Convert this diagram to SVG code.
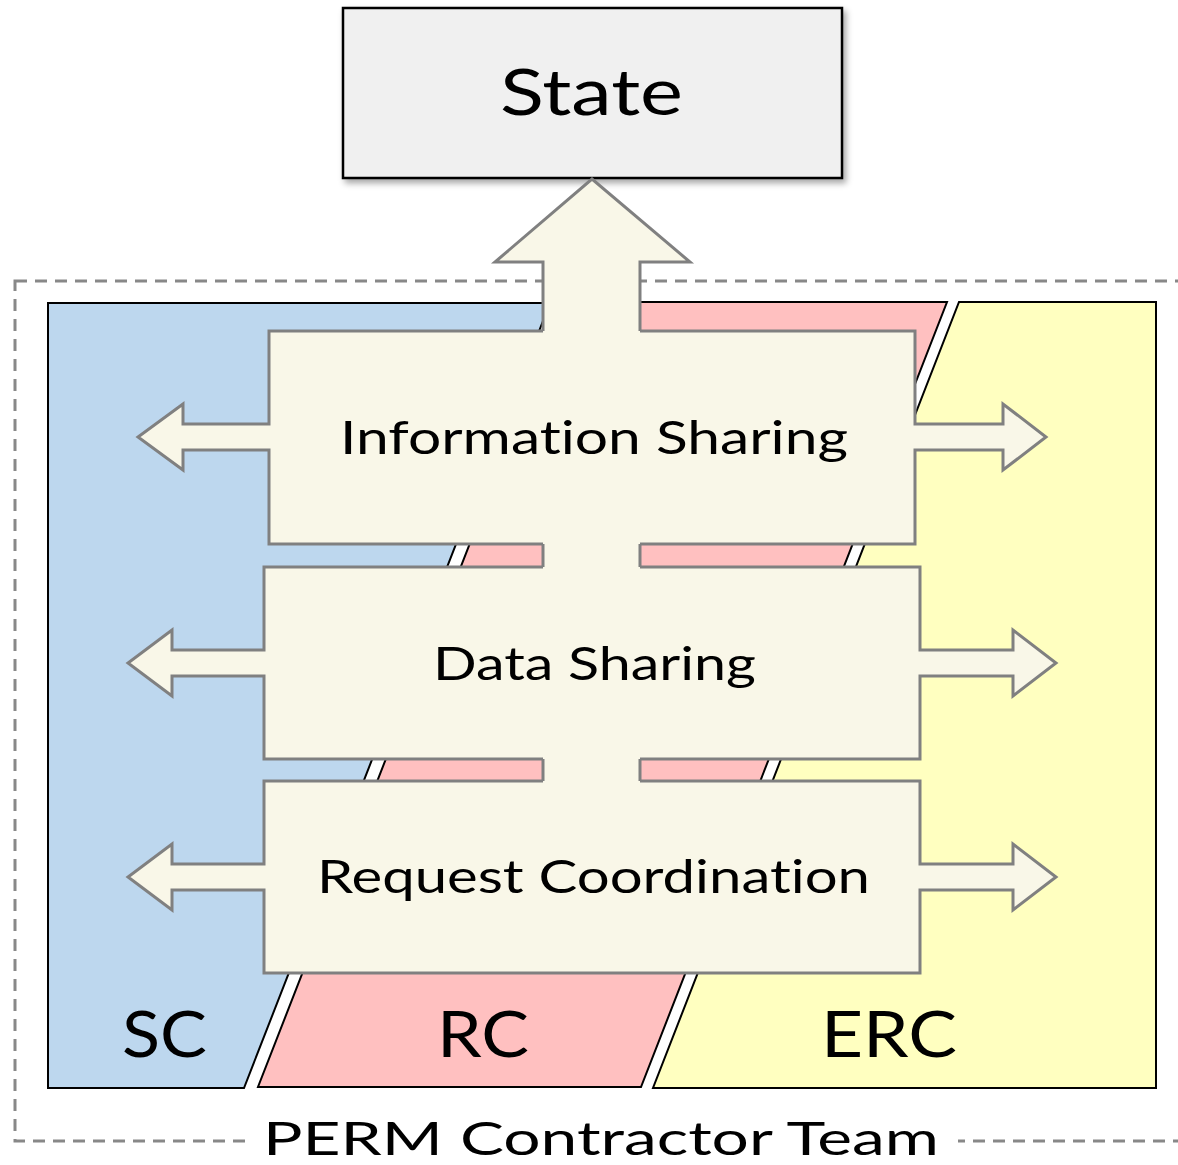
<svg xmlns="http://www.w3.org/2000/svg" width="1178" height="1165" viewBox="0 0 1178 1165">
<defs>
<filter id="shadow" x="-5%" y="-5%" width="115%" height="130%">
<feDropShadow dx="3" dy="4" stdDeviation="3" flood-color="#000" flood-opacity="0.35"/>
</filter>
<style>
.panel{stroke:#000;stroke-width:2;stroke-linejoin:miter}
.fill{fill:#f9f7e8;stroke:none}
.edge{fill:none;stroke:#808080;stroke-width:3;stroke-linejoin:miter}
.lbl{font-family:Lato,"Open Sans","Liberation Sans",sans-serif;fill:#000;text-anchor:middle;font-variant-ligatures:none}
</style>
</defs>
<rect width="1178" height="1165" fill="#fff"/>

<g id="team">
<rect x="15" y="281" width="1175" height="860" fill="none" stroke="#888" stroke-width="3" stroke-dasharray="12 8"/>
</g>

<g id="sc">
<polygon class="panel" points="48,303 550,303 244,1088 48,1088" fill="#bdd7ee"/>
<text class="lbl" x="164.5" y="1057" font-size="63" textLength="85" lengthAdjust="spacingAndGlyphs">SC</text>
</g>
<g id="rc">
<polygon class="panel" points="564,302 947,302 641,1087 258,1087" fill="#ffc0c0"/>
<text class="lbl" x="483" y="1057" font-size="63" textLength="92" lengthAdjust="spacingAndGlyphs">RC</text>
</g>
<g id="erc">
<polygon class="panel" points="959,302 1156,302 1156,1088 653,1088" fill="#ffffc0"/>
<text class="lbl" x="889" y="1057" font-size="63" textLength="136" lengthAdjust="spacingAndGlyphs">ERC</text>
</g>

<g id="state">
<rect x="343" y="8" width="499" height="170" fill="#f0f0f0" stroke="#000" stroke-width="2.5" filter="url(#shadow)"/>
<text class="lbl" x="591.5" y="115" font-size="63" textLength="183" lengthAdjust="spacingAndGlyphs">State</text>
</g>

<g id="connectors">
<path class="fill" d="M543,333 V262 H495 L592,179 L690,262 H640 V333 Z"/>
<path class="edge" d="M543,331 V262 H495 L592,179 L690,262 H640 V331"/>
<rect class="fill" x="543" y="542" width="97" height="27"/>
<rect class="fill" x="543" y="757" width="97" height="26"/>
<path class="edge" d="M543,544 V567 M640,544 V567 M543,759 V781 M640,759 V781"/>
</g>

<g id="info-sharing">
<path class="fill" d="M269,331 H915 V424 H1003 V404 L1046,437 L1003,470 V450 H915 V544 H269 V450 H183 V470 L138,437 L183,404 V424 H269 Z"/>
<path class="edge" d="M543,331 H269 V424 H183 V404 L138,437 L183,470 V450 H269 V544 H543 M640,544 H915 V450 H1003 V470 L1046,437 L1003,404 V424 H915 V331 H640"/>
<text class="lbl" x="594" y="454" font-size="46" textLength="508" lengthAdjust="spacingAndGlyphs">Information Sharing</text>
</g>

<g id="data-sharing">
<path class="fill" d="M264,567 H920 V650 H1013 V630 L1056,663 L1013,696 V676 H920 V759 H264 V676 H172 V696 L128,663 L172,630 V650 H264 Z"/>
<path class="edge" d="M543,567 H264 V650 H172 V630 L128,663 L172,696 V676 H264 V759 H543 M640,759 H920 V676 H1013 V696 L1056,663 L1013,630 V650 H920 V567 H640"/>
<text class="lbl" x="594.5" y="680" font-size="46" textLength="323" lengthAdjust="spacingAndGlyphs">Data Sharing</text>
</g>

<g id="request-coordination">
<path class="fill" d="M264,781 H920 V864 H1013 V844 L1056,877 L1013,910 V890 H920 V973 H264 V890 H172 V910 L128,877 L172,844 V864 H264 Z"/>
<path class="edge" d="M543,781 H264 V864 H172 V844 L128,877 L172,910 V890 H264 V973 H920 V890 H1013 V910 L1056,877 L1013,844 V864 H920 V781 H640"/>
<text class="lbl" x="593.5" y="893" font-size="46" textLength="553" lengthAdjust="spacingAndGlyphs">Request Coordination</text>
</g>

<g id="team-label">
<rect x="246" y="1120" width="712" height="45" fill="#fff"/>
<text class="lbl" x="601" y="1155" font-size="46" textLength="676" lengthAdjust="spacingAndGlyphs">PERM Contractor Team</text>
</g>
</svg>
